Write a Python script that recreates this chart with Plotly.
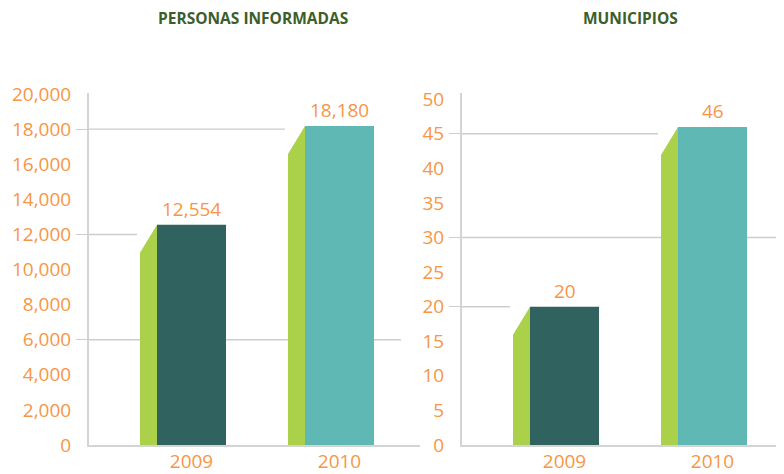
import plotly.graph_objects as go

# ---------------- data ----------------
years = ["2009", "2010"]
personas = [12554, 18180]
municipios = [20, 46]
personas_ticks = list(range(0, 20001, 2000))
municipios_ticks = list(range(0, 51, 5))
personas_grid = [6000, 12000, 18000]
personas_grid_stop = [None, 0, 1]      # index of bar the line stops at (None = full)
municipios_grid = [20, 30, 45]
municipios_grid_stop = [0, None, 1]
titles = ["PERSONAS INFORMADAS", "MUNICIPIOS"]

# ---------------- style ----------------
OFF = 8                      # default page body margin
W, H = 784 - OFF, 474 - OFF
MB = 474 - 445
PH = H - MB
ORANGE = "#f79646"
TITLE_GREEN = "#3b5e2b"
SIDE_GREEN = "#abd04a"
BAR_COLORS = ["#306260", "#60b8b5"]
GRID = "#cdcdcd"
AXIS = "#d4d4d4"
FONT = "Open Sans"

CAT_PX = 148.0
BAR_W = 69 / CAT_PX
SIDE_W = 17 / CAT_PX
DROP_PX = 28
TITLE_Y_PX = 18

panels = [
    dict(vals=personas, ticks=personas_ticks, grid=personas_grid, stop=personas_grid_stop,
         ax_px=89, center_px=191.5, end_px=420, full_end_px=401, ytop=20060, title_x=253),
    dict(vals=municipios, ticks=municipios_ticks, grid=municipios_grid, stop=municipios_grid_stop,
         ax_px=462, center_px=564.5, end_px=784, full_end_px=776, ytop=50.9, title_x=630),
]

Y_TOP_PX = 93 - OFF
ydom_top = (PH - Y_TOP_PX) / PH

fig = go.Figure()
shapes = []
annotations = []
layout = {}

for k, p in enumerate(panels):
    xa = "x" if k == 0 else "x2"
    ya = "y" if k == 0 else "y2"
    xkey = "xaxis" if k == 0 else "xaxis2"
    ykey = "yaxis" if k == 0 else "yaxis2"
    r0 = -(p["center_px"] - p["ax_px"]) / CAT_PX
    r1 = r0 + (min(p["end_px"] - OFF, W) - (p["ax_px"] - OFF)) / CAT_PX
    xs = list(range(len(years)))
    drop = DROP_PX * p["ytop"] / (PH - Y_TOP_PX)

    # front faces
    fig.add_trace(go.Bar(x=xs, y=p["vals"], width=BAR_W, marker=dict(color=BAR_COLORS, line=dict(width=0)),
                         xaxis=xa, yaxis=ya, hoverinfo="skip", showlegend=False))
    # side faces
    for i, v in enumerate(p["vals"]):
        xl = i - BAR_W / 2 - SIDE_W
        xr = i - BAR_W / 2
        fig.add_trace(go.Scatter(x=[xl, xr, xr, xl, xl], y=[0, 0, v, v - drop, 0],
                                 fill="toself", fillcolor=SIDE_GREEN, mode="lines",
                                 line=dict(width=0, color=SIDE_GREEN),
                                 xaxis=xa, yaxis=ya, hoverinfo="skip", showlegend=False))
        annotations.append(dict(x=i, y=v, xref=xa, yref=ya, text="{:,}".format(v),
                                showarrow=False, xanchor="center", yanchor="bottom", yshift=1,
                                font=dict(family=FONT, size=19, color=ORANGE)))
    # grid lines
    for g, s in zip(p["grid"], p["stop"]):
        if s is None:
            x_end = (p["full_end_px"] - p["center_px"]) / CAT_PX
        else:
            x_end = s - BAR_W / 2 - SIDE_W - 3 / CAT_PX
        shapes.append(dict(type="line", xref=xa, yref=ya, x0=r0, x1=x_end, y0=g, y1=g,
                           layer="below", line=dict(color=GRID, width=1.4)))

    dom_x = [(p["ax_px"] - OFF) / W, min(p["end_px"] - OFF, W) / W]
    layout[xkey] = dict(domain=dom_x, range=[r0, r1], anchor=ya, tickmode="array",
                        tickvals=xs, ticktext=years, showline=True, linecolor=AXIS, linewidth=2,
                        showgrid=False, zeroline=False, ticks="", automargin=False,
                        ticklabelstandoff=-2,
                        tickfont=dict(family=FONT, size=19, color=ORANGE), fixedrange=True)
    layout[ykey] = dict(domain=[0, ydom_top], range=[0, p["ytop"]], anchor=xa, tickmode="array",
                        tickvals=p["ticks"], ticktext=["{:,}".format(t) for t in p["ticks"]],
                        showline=True, linecolor=AXIS, linewidth=2, showgrid=False, zeroline=False,
                        ticks="", ticklabelstandoff=12, automargin=False,
                        tickfont=dict(family=FONT, size=19, color=ORANGE), fixedrange=True)
    # overlay axis drawing the short stubs of the grid lines left of the axis
    okey = "yaxis3" if k == 0 else "yaxis4"
    layout[okey] = dict(overlaying=ya, range=[0, p["ytop"]], anchor=xa, side="left",
                        tickmode="array", tickvals=p["grid"], showticklabels=False,
                        ticks="outside", ticklen=12, tickwidth=1.4, tickcolor=GRID, automargin=False,
                        showline=False, showgrid=False, zeroline=False, fixedrange=True)
    annotations.append(dict(x=(p["title_x"] - OFF) / W, y=(PH - (TITLE_Y_PX - OFF)) / PH,
                            xref="paper", yref="paper", borderpad=0,
                            text="<b>" + titles[k] + "</b>", showarrow=False,
                            xanchor="center", yanchor="middle",
                            font=dict(family=FONT, size=15.5, color=TITLE_GREEN)))

# empty traces so the overlay axes are rendered
fig.add_trace(go.Scatter(x=[None], y=[None], xaxis="x", yaxis="y3", showlegend=False, hoverinfo="skip"))
fig.add_trace(go.Scatter(x=[None], y=[None], xaxis="x2", yaxis="y4", showlegend=False, hoverinfo="skip"))

fig.update_layout(width=W, height=H, margin=dict(l=0, r=0, t=0, b=MB, pad=0),
                  paper_bgcolor="white", plot_bgcolor="white",
                  shapes=shapes, annotations=annotations, showlegend=False, **layout)

fig.write_html("out.html")
